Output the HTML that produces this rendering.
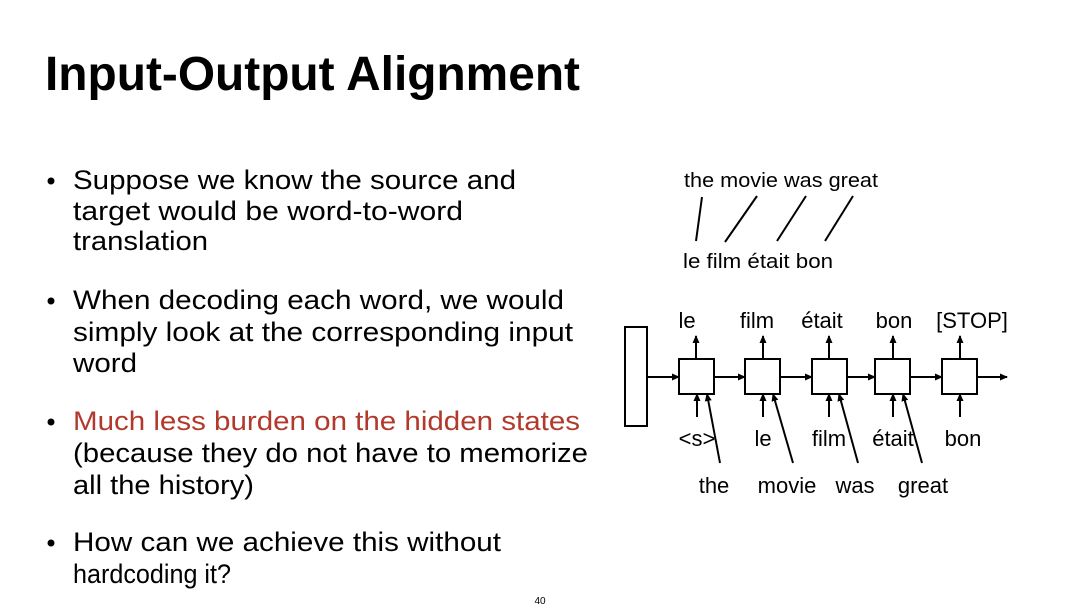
<!DOCTYPE html>
<html><head><meta charset="utf-8"><style>
html,body{margin:0;padding:0;background:#fff;}
svg{display:block;}
</style></head><body>
<svg width="1088" height="614" viewBox="0 0 1088 614" xmlns="http://www.w3.org/2000/svg">
<defs>
<marker id="ah" markerWidth="8" markerHeight="8" refX="7" refY="4" orient="auto" markerUnits="userSpaceOnUse">
<path d="M0,0.5 L8,4 L0,7.5 z" fill="#000"/>
</marker>
</defs>
<rect width="1088" height="614" fill="#fff"/>
<g font-family="Liberation Sans, sans-serif" fill="#000">
<text x="45" y="90" font-size="48" font-weight="bold" textLength="535" lengthAdjust="spacingAndGlyphs">Input-Output Alignment</text>
<g font-size="27">
<circle cx="51" cy="181" r="3.5"/>
<text x="73" y="189" textLength="443" lengthAdjust="spacingAndGlyphs">Suppose we know the source and</text>
<text x="73" y="220" textLength="390" lengthAdjust="spacingAndGlyphs">target would be word-to-word</text>
<text x="73" y="250" textLength="135" lengthAdjust="spacingAndGlyphs">translation</text>
<circle cx="51" cy="301" r="3.5"/>
<text x="73" y="309" textLength="491" lengthAdjust="spacingAndGlyphs">When decoding each word, we would</text>
<text x="73" y="341" textLength="500" lengthAdjust="spacingAndGlyphs">simply look at the corresponding input</text>
<text x="73" y="372" textLength="64" lengthAdjust="spacingAndGlyphs">word</text>
<circle cx="51" cy="422" r="3.5"/>
<text x="73" y="430" fill="#b23a2c" textLength="507" lengthAdjust="spacingAndGlyphs">Much less burden on the hidden states</text>
<text x="73" y="462" textLength="515" lengthAdjust="spacingAndGlyphs">(because they do not have to memorize</text>
<text x="73" y="494" textLength="181" lengthAdjust="spacingAndGlyphs">all the history)</text>
<circle cx="51" cy="543" r="3.5"/>
<text x="73" y="551" textLength="428" lengthAdjust="spacingAndGlyphs">How can we achieve this without</text>
<text x="73" y="583" textLength="158" lengthAdjust="spacingAndGlyphs">hardcoding it?</text>
</g>
<text x="540" y="604" font-size="10" text-anchor="middle">40</text>

<g font-size="20">
<text x="684" y="187" textLength="194" lengthAdjust="spacingAndGlyphs">the movie was great</text>
<text x="683" y="268" textLength="150" lengthAdjust="spacingAndGlyphs">le film était bon</text>
</g>
<g stroke="#000" stroke-width="2">
<line x1="702" y1="197" x2="696" y2="241"/>
<line x1="757" y1="196" x2="725" y2="242"/>
<line x1="806" y1="196" x2="777" y2="241"/>
<line x1="853" y1="196" x2="825" y2="241"/>
</g>

<g stroke="#000" stroke-width="2" fill="none">
<rect x="625" y="327" width="22" height="99"/>
<rect x="679" y="359" width="35" height="35"/>
<rect x="745" y="359" width="35" height="35"/>
<rect x="812" y="359" width="35" height="35"/>
<rect x="875" y="359" width="35" height="35"/>
<rect x="942" y="359" width="35" height="35"/>
<line x1="647" y1="377" x2="679" y2="377" marker-end="url(#ah)"/>
<line x1="714" y1="377" x2="745" y2="377" marker-end="url(#ah)"/>
<line x1="780" y1="377" x2="812" y2="377" marker-end="url(#ah)"/>
<line x1="847" y1="377" x2="875" y2="377" marker-end="url(#ah)"/>
<line x1="910" y1="377" x2="942" y2="377" marker-end="url(#ah)"/>
<line x1="977" y1="377" x2="1007" y2="377" marker-end="url(#ah)"/>
<line x1="696" y1="359" x2="696" y2="336" marker-end="url(#ah)"/>
<line x1="763" y1="359" x2="763" y2="336" marker-end="url(#ah)"/>
<line x1="829" y1="359" x2="829" y2="336" marker-end="url(#ah)"/>
<line x1="893" y1="359" x2="893" y2="336" marker-end="url(#ah)"/>
<line x1="960" y1="359" x2="960" y2="336" marker-end="url(#ah)"/>
<line x1="697" y1="417" x2="697" y2="394" marker-end="url(#ah)"/>
<line x1="763" y1="417" x2="763" y2="394" marker-end="url(#ah)"/>
<line x1="829" y1="417" x2="829" y2="394" marker-end="url(#ah)"/>
<line x1="893" y1="417" x2="893" y2="394" marker-end="url(#ah)"/>
<line x1="960" y1="417" x2="960" y2="394" marker-end="url(#ah)"/>
<line x1="720" y1="463" x2="707" y2="394" marker-end="url(#ah)"/>
<line x1="793" y1="463" x2="773" y2="394" marker-end="url(#ah)"/>
<line x1="858" y1="463" x2="839" y2="394" marker-end="url(#ah)"/>
<line x1="922" y1="463" x2="903" y2="394" marker-end="url(#ah)"/>
</g>
<g font-size="22" text-anchor="middle">
<text x="687" y="328">le</text>
<text x="757" y="328">film</text>
<text x="822" y="328">était</text>
<text x="894" y="328">bon</text>
<text x="972" y="328">[STOP]</text>
<text x="697" y="446">&lt;s&gt;</text>
<text x="763" y="446">le</text>
<text x="829" y="446">film</text>
<text x="893" y="446">était</text>
<text x="963" y="446">bon</text>
<text x="714" y="493">the</text>
<text x="787" y="493">movie</text>
<text x="855" y="493">was</text>
<text x="923" y="493">great</text>
</g>
</g>
</svg>
</body></html>
